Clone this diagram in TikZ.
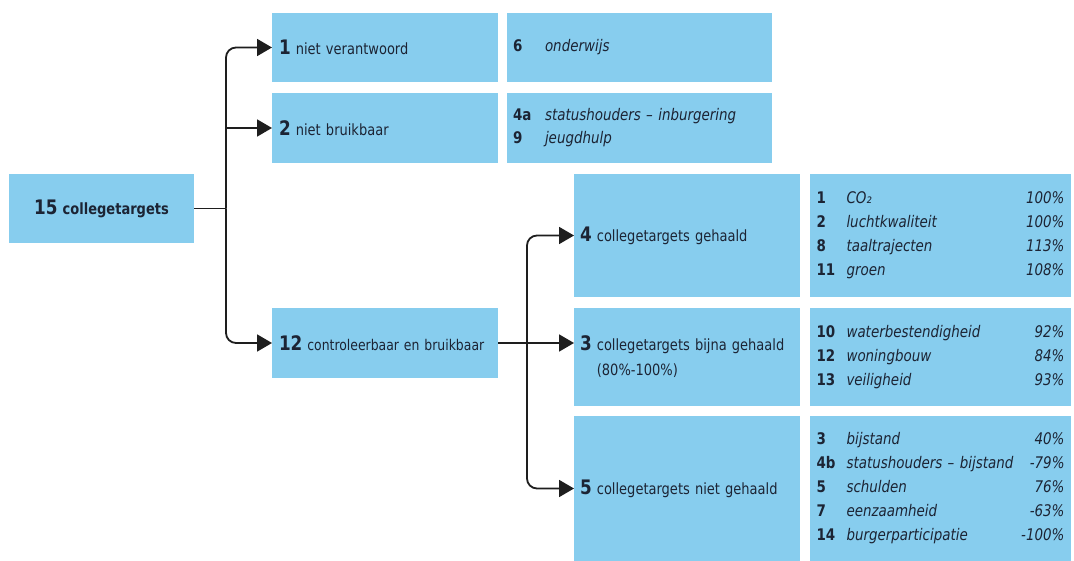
\documentclass[tikz,border=0pt]{standalone}
\usepackage{fontspec}
\setmainfont{DejaVu Sans}[FakeStretch=0.84]
\usetikzlibrary{arrows.meta}
\definecolor{boxblue}{RGB}{135,205,238}
\definecolor{ink}{RGB}{28,36,52}
\definecolor{linec}{RGB}{30,30,30}
\newcommand\fsz{\fontsize{15.5}{24}\selectfont}
\newcommand\rsz{\fontsize{16}{24}\selectfont}
\newcommand\nfz{\fontsize{20}{22}\selectfont\bfseries}
\newcommand\rowl[3]{\makebox[30pt][l]{\bfseries #1}\textit{#2}\hfill\textit{#3}}
\newcommand\iteml[2]{\makebox[32pt][l]{\bfseries #1}\textit{#2}}
\begin{document}
\begin{tikzpicture}[x=1pt,y=-1pt,
  box/.style={fill=boxblue, draw=none, anchor=north west, inner xsep=7pt, inner ysep=0pt,
    outer sep=0pt, font=\fsz, text=ink, align=left},
  conn/.style={draw=linec, line width=1.8pt},
  arr/.style={conn, -{Triangle[length=15pt,width=17pt]}},
  rarr/.style={arr, rounded corners=10pt}]
\useasboundingbox (0,0) rectangle (1074,561);
\fill[white] (0,0) rectangle (1074,561);
% left column
\node[box, minimum width=185pt, minimum height=69pt, text width=171pt, align=center] (b15) at (9,174)
  {{\nfz 15} \textbf{collegetargets}};
\node[box, minimum width=226pt, minimum height=69pt, text width=212pt] (b1) at (272,13)
  {{\nfz 1} niet verantwoord};
\node[box, minimum width=226pt, minimum height=70pt, text width=212pt] (b2) at (272,93)
  {{\nfz 2} niet bruikbaar};
\node[box, minimum width=226pt, minimum height=70pt, text width=212pt, font=\fontsize{14.8}{24}\selectfont] (b12) at (272,308)
  {\mbox{{\nfz 12} controleerbaar en bruikbaar}};
\node[box, inner xsep=6pt, minimum width=265pt, minimum height=69pt, text width=253pt, font=\rsz] (b6) at (507,13)
  {\iteml{6}{onderwijs}};
\node[box, inner xsep=6pt, minimum width=265pt, minimum height=70pt, text width=253pt, font=\fontsize{16}{23}\selectfont] (b4a) at (507,93)
  {\iteml{4a}{statushouders – inburgering}\\\iteml{9}{jeugdhulp}};
% middle column
\node[box, inner xsep=6pt, minimum width=226pt, minimum height=123pt, text width=214pt] (b4) at (574,174)
  {{\nfz 4} collegetargets gehaald};
\node[box, inner xsep=6pt, minimum width=226pt, minimum height=98pt, text width=214pt, font=\fontsize{15.5}{25}\selectfont] (b3) at (574,308)
  {{\nfz 3} collegetargets bijna gehaald\\\hphantom{\nfz 3} (80\%-100\%)};
\node[box, inner xsep=6pt, minimum width=226pt, minimum height=145pt, text width=214pt] (b5) at (574,416)
  {{\nfz 5} collegetargets niet gehaald};
% right column
\node[box, inner xsep=6pt, minimum width=261pt, minimum height=123pt, text width=248pt, font=\rsz] (b4r) at (810,174)
  {\rowl{1}{CO₂}{100\%}\\\rowl{2}{luchtkwaliteit}{100\%}\\\rowl{8}{taaltrajecten}{113\%}\\\rowl{11}{groen}{108\%}};
\node[box, inner xsep=6pt, minimum width=261pt, minimum height=98pt, text width=248pt, font=\rsz] (b3r) at (810,308)
  {\rowl{10}{waterbestendigheid}{92\%}\\\rowl{12}{woningbouw}{84\%}\\\rowl{13}{veiligheid}{93\%}};
\node[box, inner xsep=6pt, minimum width=261pt, minimum height=145pt, text width=248pt, font=\rsz] (b5r) at (810,416)
  {\rowl{3}{bijstand}{40\%}\\\rowl{4b}{statushouders – bijstand}{-79\%}\\\rowl{5}{schulden}{76\%}\\\rowl{7}{eenzaamheid}{-63\%}\\\rowl{14}{burgerparticipatie}{-100\%}};
% connectors
\coordinate (j1) at (226,208.5);
\draw[conn] (b15.east) -- (j1);
\draw[rarr] (j1) |- (b1.west);
\draw[rarr] (j1) |- (b12.west);
\draw[arr] (j1 |- b2.west) -- (b2.west);
\coordinate (j2) at (527,343);
\draw[arr] (b12.east) -- (b3.west |- b12.east);
\draw[rarr] (j2) |- (b4.west);
\draw[rarr] (j2) |- (b5.west);
\end{tikzpicture}
\end{document}
